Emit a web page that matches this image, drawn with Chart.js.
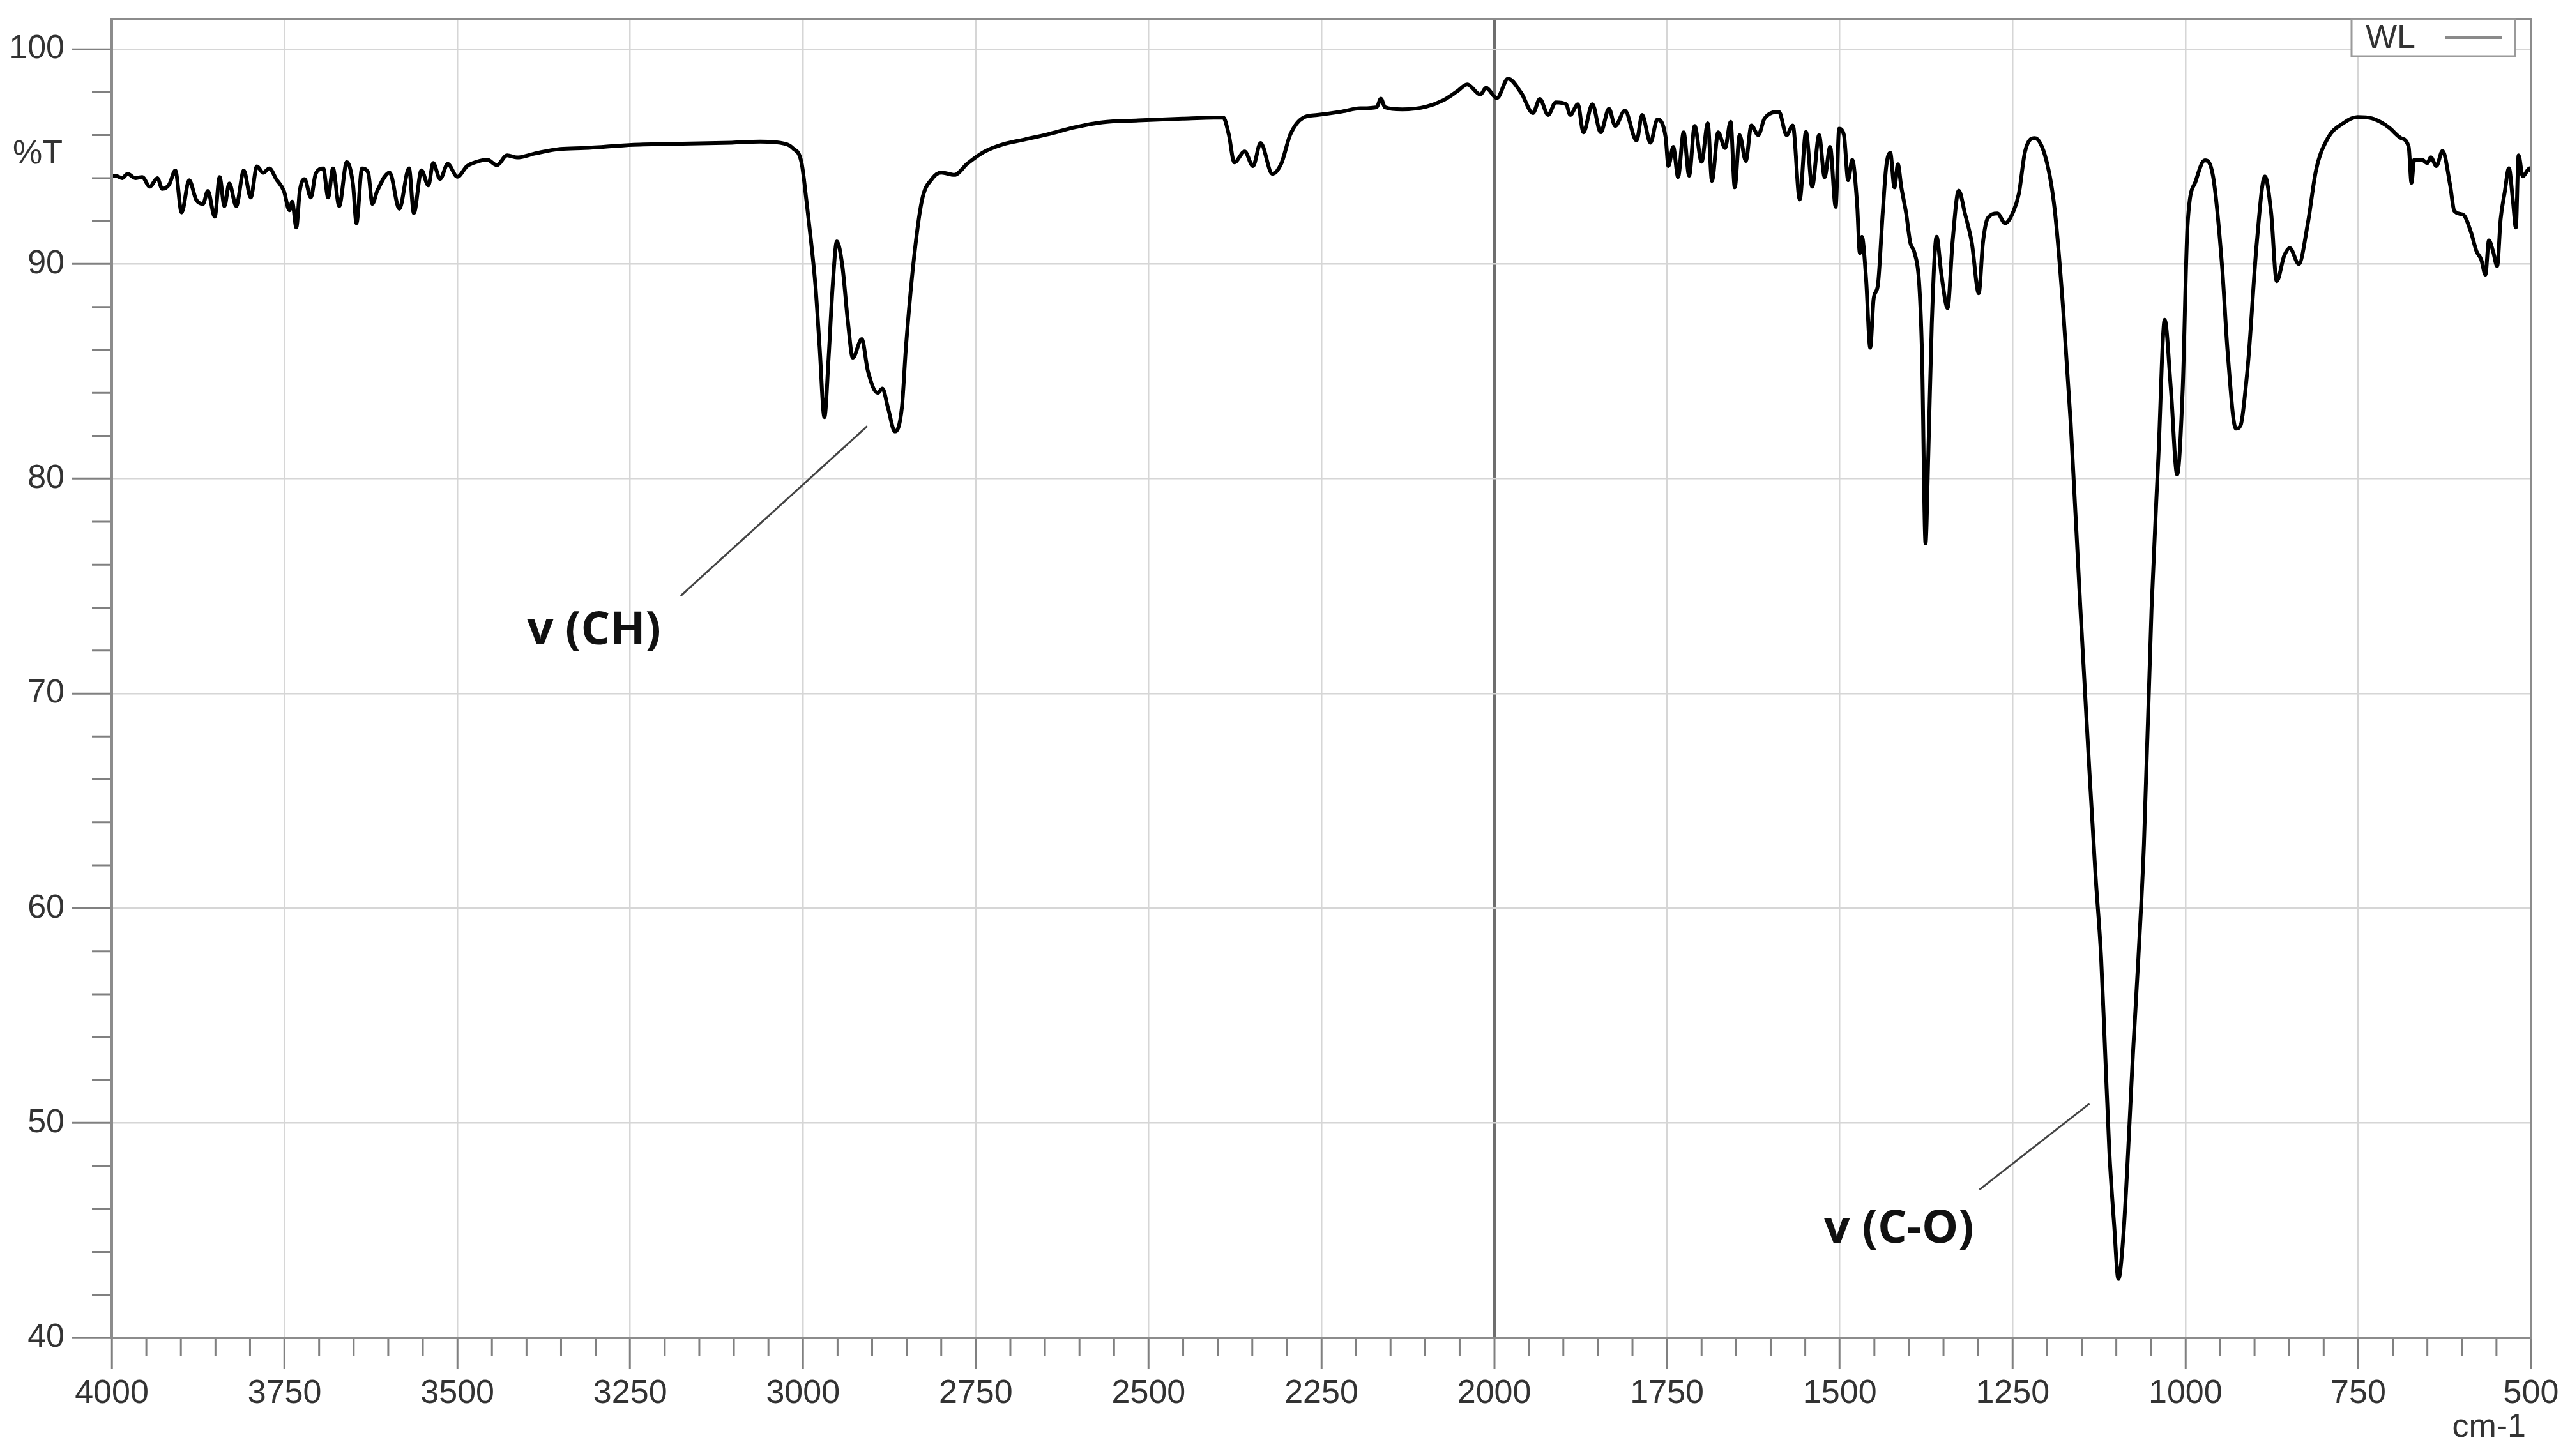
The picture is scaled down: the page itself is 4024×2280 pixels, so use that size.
<!DOCTYPE html>
<html>
<head>
<meta charset="utf-8">
<script src="https://cdn.jsdelivr.net/npm/chart.js@4.4.1/dist/chart.umd.min.js"></script>
<style>
  html, body { margin: 0; padding: 0; background: #fff; }
  canvas { display: block; }
</style>
</head>
<body>
<canvas id="grafico" width="4024" height="2280"></canvas>
<script>
// IR spectrum, %T vs wavenumber (cm-1)
const wavenumbers = [
  4000, 3994, 3985, 3977, 3966, 3956, 3945, 3934, 3927, 3917, 3908, 3899, 3888, 3878, 3868, 3861,
  3851, 3844, 3837, 3830, 3820, 3809, 3799, 3790, 3781, 3772, 3762, 3751, 3743, 3739, 3733, 3728,
  3721, 3712, 3705, 3694, 3687, 3680, 3671, 3660, 3651, 3646, 3638, 3629, 3623, 3616, 3598, 3584,
  3570, 3563, 3552, 3542, 3535, 3525, 3514, 3500, 3486, 3472, 3457, 3443, 3428, 3414, 3386, 3351,
  3316, 3245, 3174, 3103, 3062, 3026, 3015, 3002, 2995, 2989, 2982, 2976, 2969, 2963, 2957, 2951,
  2943, 2935, 2928, 2915, 2906, 2892, 2885, 2877, 2867, 2857, 2851, 2840, 2828, 2813, 2800, 2781,
  2762, 2737, 2711, 2679, 2647, 2606, 2567, 2515, 2451, 2392, 2384, 2376, 2361, 2349, 2338, 2321,
  2308, 2295, 2276, 2256, 2220, 2194, 2170, 2164, 2158, 2133, 2098, 2074, 2054, 2039, 2020, 2012,
  1996, 1980, 1961, 1944, 1934, 1922, 1911, 1896, 1890, 1879, 1871, 1858, 1846, 1834, 1825, 1811,
  1794, 1786, 1774, 1764, 1752, 1748, 1741, 1734, 1726, 1718, 1710, 1700, 1691, 1685, 1676, 1666,
  1658, 1652, 1645, 1636, 1628, 1618, 1609, 1588, 1577, 1568, 1558, 1549, 1540, 1530, 1522, 1514,
  1506, 1501, 1494, 1488, 1482, 1475, 1471, 1468, 1462, 1456, 1451, 1445, 1438, 1433, 1427, 1421,
  1416, 1411, 1404, 1398, 1392, 1385, 1381, 1376, 1372, 1367, 1360, 1353, 1344, 1337, 1328, 1319,
  1309, 1299, 1293, 1286, 1272, 1261, 1249, 1241, 1232, 1218, 1201, 1189, 1177, 1166, 1152, 1140,
  1130, 1122, 1116, 1110, 1103, 1097, 1090, 1083, 1076, 1068, 1060, 1049, 1039, 1030, 1021, 1012,
  1004, 997, 985, 972, 960, 947, 939, 927, 920, 912, 908, 897, 885, 876, 868, 857,
  849, 836, 823, 811, 794, 772, 751, 730, 717, 705, 688, 677, 673, 669, 658, 650,
  645, 637, 628, 617, 611, 598, 587, 579, 572, 566, 561, 555, 549, 544, 538, 532,
  526, 522, 518, 512, 502, 500
];
const transmittance = [
  94.1, 94.1, 94.0, 94.2, 94.0, 94.05, 93.6, 94.0, 93.5, 93.7, 94.35, 92.4, 93.9, 93.0, 92.8, 93.4,
  92.2, 94.05, 92.7, 93.75, 92.7, 94.35, 93.1, 94.55, 94.25, 94.45, 93.95, 93.4, 92.5, 92.9, 91.7, 93.4,
  93.95, 93.1, 94.2, 94.45, 93.1, 94.45, 92.7, 94.75, 93.7, 91.9, 94.45, 94.25, 92.8, 93.4, 94.26, 92.57,
  94.46, 92.37, 94.36, 93.66, 94.7, 93.96, 94.66, 94.06, 94.56, 94.76, 94.86, 94.6, 95.06, 94.96, 95.16, 95.36,
  95.4, 95.55, 95.6, 95.65, 95.7, 95.6, 95.4, 94.7, 92.95, 91.25, 89.0, 86.15, 82.87, 85.6, 89.0, 91.05,
  89.9, 87.3, 85.64, 86.5, 85.0, 84.0, 84.2, 83.3, 82.2, 83.3, 86.15, 90.1, 92.95, 93.98, 94.26, 94.15,
  94.68, 95.24, 95.57, 95.8, 96.03, 96.37, 96.6, 96.69, 96.77, 96.82, 96.03, 94.73, 95.24, 94.56, 95.63, 94.2,
  94.68, 96.03, 96.82, 96.94, 97.1, 97.25, 97.3, 97.7, 97.3, 97.2, 97.33, 97.62, 98.03, 98.36, 97.89, 98.2,
  97.73, 98.63, 97.97, 97.03, 97.68, 96.94, 97.53, 97.44, 96.94, 97.44, 96.13, 97.44, 96.13, 97.23, 96.43, 97.14,
  95.75, 96.94, 95.65, 96.73, 95.9, 94.56, 95.45, 94.05, 96.13, 94.11, 96.43, 94.76, 96.55, 93.87, 96.13, 95.4,
  96.62, 93.57, 96.0, 94.8, 96.45, 96.0, 96.77, 97.08, 96.0, 96.45, 93.0, 96.15, 93.6, 96.0, 94.05, 95.45,
  92.66, 96.3, 96.0, 93.9, 94.85, 92.8, 90.5, 91.27, 89.3, 86.1, 88.4, 89.0, 92.35, 94.5, 95.18, 93.57,
  94.64, 93.57, 92.35, 90.98, 90.53, 89.0, 85.66, 76.99, 81.1, 87.17, 91.27, 89.5, 87.95, 90.99, 93.42, 92.35,
  90.98, 88.64, 90.98, 92.13, 92.35, 91.9, 92.44, 93.27, 95.24, 95.86, 94.8, 92.5, 87.95, 82.6, 73.97, 67.0,
  61.5, 57.73, 53.18, 48.63, 45.2, 42.74, 44.67, 48.63, 53.18, 57.73, 63.0, 73.97, 81.1, 87.4, 84.15, 80.2,
  84.15, 91.76, 93.87, 94.83, 94.08, 89.9, 85.93, 82.33, 82.5, 84.5, 85.93, 90.9, 94.08, 92.38, 89.2, 90.39,
  90.74, 90.0, 91.88, 94.37, 95.86, 96.55, 96.84, 96.78, 96.6, 96.34, 95.86, 95.45, 93.78, 94.85, 94.85, 94.7,
  94.97, 94.56, 95.27, 93.66, 92.47, 92.29, 91.49, 90.6, 90.2, 89.5, 91.1, 90.6, 89.9, 92.08, 93.36, 94.46,
  92.88, 91.7, 95.06, 94.08, 94.46, 94.3
];

const xTicks = [4000, 3750, 3500, 3250, 3000, 2750, 2500, 2250, 2000, 1750, 1500, 1250, 1000, 750, 500];
const yTicks = [40, 50, 60, 70, 80, 90, 100];

// minor tick marks: every 50 cm-1 and every 2 %T
const xMinor = [];
for (let v = 4000; v >= 500; v -= 50) if (v % 250 !== 0) xMinor.push(v);
const yMinor = [];
for (let v = 40; v <= 100; v += 2) if (v % 10 !== 0) yMinor.push(v);

// band labels: text anchor and leader line ends, in data units
const bandLabels = [
  { text: 'v (CH)', at: [3399, 72.9], from: [3177, 74.55], to: [2907, 82.45] },
  { text: 'v (C-O)', at: [1523, 45.05], from: [1298, 46.9], to: [1139, 50.9] }
];

const LABEL_FONT = '52px "Liberation Sans", Arial, sans-serif';

const decor = {
  id: 'decor',
  afterDraw(chart) {
    const { ctx, chartArea: a, scales: { x, y } } = chart;
    ctx.save();

    // minor ticks
    ctx.strokeStyle = '#808080';
    ctx.lineWidth = 3;
    ctx.beginPath();
    xMinor.forEach(v => {
      const px = x.getPixelForValue(v);
      ctx.moveTo(px, a.bottom);
      ctx.lineTo(px, a.bottom + 28);
    });
    yMinor.forEach(v => {
      const py = y.getPixelForValue(v);
      ctx.moveTo(a.left - 31, py);
      ctx.lineTo(a.left, py);
    });
    ctx.stroke();

    // frame
    ctx.strokeStyle = '#8c8c8c';
    ctx.lineWidth = 4;
    ctx.strokeRect(a.left, a.top, a.right - a.left, a.bottom - a.top);

    // axis captions
    ctx.fillStyle = '#333';
    ctx.font = LABEL_FONT;
    ctx.textBaseline = 'middle';
    ctx.textAlign = 'right';
    ctx.fillText('%T', 98, y.getPixelForValue(95.1));
    ctx.fillText('cm-1', a.right - 8, 2236);

    // band labels
    ctx.strokeStyle = '#444';
    ctx.lineWidth = 3;
    ctx.fillStyle = '#111';
    ctx.font = 'bold 72px "Open Sans", "Noto Sans", sans-serif';
    ctx.textAlign = 'left';
    bandLabels.forEach(b => {
      ctx.beginPath();
      ctx.moveTo(x.getPixelForValue(b.from[0]), y.getPixelForValue(b.from[1]));
      ctx.lineTo(x.getPixelForValue(b.to[0]), y.getPixelForValue(b.to[1]));
      ctx.stroke();
      ctx.fillText(b.text, x.getPixelForValue(b.at[0]), y.getPixelForValue(b.at[1]));
    });

    // legend box
    const lx = a.right - 281, lw = 256, lh = 58, ly = a.top;
    ctx.fillStyle = '#fff';
    ctx.fillRect(lx, ly, lw, lh);
    ctx.strokeStyle = '#9a9a9a';
    ctx.lineWidth = 3;
    ctx.strokeRect(lx, ly, lw, lh);
    ctx.fillStyle = '#333';
    ctx.font = LABEL_FONT;
    ctx.textAlign = 'left';
    ctx.fillText(chart.data.datasets[0].label, lx + 22, ly + lh / 2 + 2);
    ctx.strokeStyle = '#8a8a8a';
    ctx.lineWidth = 4;
    ctx.beginPath();
    ctx.moveTo(lx + 146, ly + lh / 2);
    ctx.lineTo(lx + 236, ly + lh / 2);
    ctx.stroke();

    ctx.restore();
  }
};

const spectro = new Chart(document.getElementById('grafico').getContext('2d'), {
  type: 'line',
  data: {
    datasets: [{
      label: 'WL',
      data: wavenumbers.map((w, i) => ({ x: w, y: transmittance[i] })),
      borderColor: '#000',
      borderWidth: 6,
      pointRadius: 0,
      cubicInterpolationMode: 'monotone',
      borderJoinStyle: 'round',
      fill: false
    }]
  },
  options: {
    responsive: false,
    devicePixelRatio: 1,
    animation: false,
    layout: { padding: { top: 30, right: 61, left: 0, bottom: 0 } },
    plugins: {
      legend: { display: false },
      tooltip: { enabled: false }
    },
    scales: {
      x: {
        type: 'linear',
        reverse: true,
        min: 500,
        max: 4000,
        afterBuildTicks: s => { s.ticks = xTicks.map(v => ({ value: v })); },
        afterFit: s => { s.height = 185; },
        ticks: {
          color: '#333',
          font: { family: '"Liberation Sans", Arial, sans-serif', size: 52 },
          padding: 8,
          maxRotation: 0,
          autoSkip: false,
          callback: v => String(v)
        },
        grid: {
          color: c => (c.tick && c.tick.value === 2000 ? '#6e6e6e' : '#d6d6d6'),
          lineWidth: c => (c.tick && c.tick.value === 2000 ? 4 : 2.5),
          tickColor: '#808080',
          tickWidth: 3,
          tickLength: 48
        },
        border: { color: '#8c8c8c', width: 4 }
      },
      y: {
        type: 'linear',
        min: 40,
        max: 101.4,
        afterBuildTicks: s => { s.ticks = yTicks.map(v => ({ value: v })); },
        afterFit: s => {
          s.width = 175;
          s.paddingTop = 0;
          s.paddingBottom = 0;
        },
        ticks: {
          color: '#333',
          font: { family: '"Liberation Sans", Arial, sans-serif', size: 52 },
          padding: 12,
          callback: v => String(v)
        },
        grid: {
          color: '#d6d6d6',
          lineWidth: 2.5,
          tickColor: '#808080',
          tickWidth: 3,
          tickLength: 62
        },
        border: { color: '#8c8c8c', width: 4 }
      }
    }
  },
  plugins: [decor]
});
</script>
</body>
</html>
